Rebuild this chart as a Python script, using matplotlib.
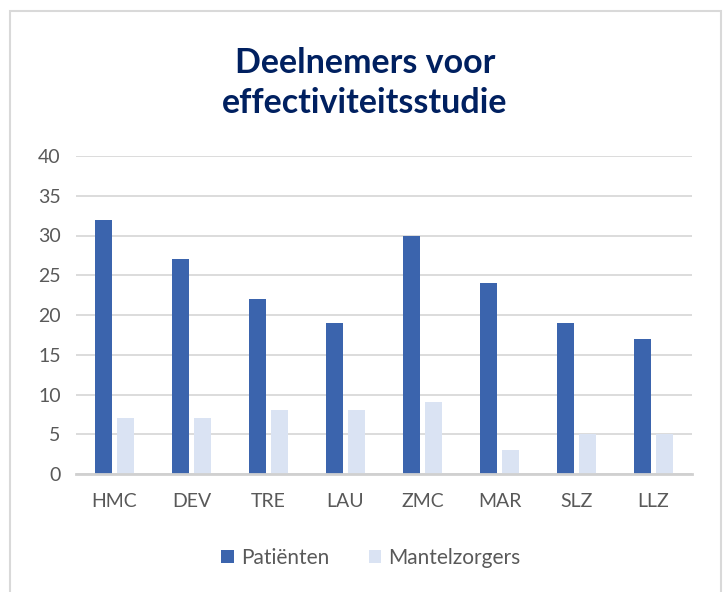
import numpy as np
import matplotlib.pyplot as plt
from matplotlib.patches import Rectangle

categories = ['HMC', 'DEV', 'TRE', 'LAU', 'ZMC', 'MAR', 'SLZ', 'LLZ']
patienten = [32, 27, 22, 19, 30, 24, 19, 17]
mantelzorgers = [7, 7, 8, 8, 9, 3, 5, 5]
y_ticks = [0, 5, 10, 15, 20, 25, 30, 35, 40]

plt.rcParams['font.family'] = ['Lato', 'DejaVu Sans']

fig = plt.figure(figsize=(7.26, 5.92), dpi=100)
ax = fig.add_axes([76 / 726, 1 - 474 / 592, 616 / 726, 318 / 592])

# chart border
fig.patches.append(Rectangle((10 / 726, -0.01), 711 / 726, 1 - 11 / 592 + 0.01,
                             transform=fig.transFigure, fill=False,
                             edgecolor='#D9D9D9', linewidth=1.5))

x = np.arange(len(categories))
w = 0.22
ax.bar(x - 0.14, patienten, w, color='#3B64AD', label='Patiënten', zorder=3)
ax.bar(x + 0.14, mantelzorgers, w, color='#DAE3F3', label='Mantelzorgers', zorder=3)

ax.set_xlim(-0.5, len(categories) - 0.5)
ax.set_ylim(0, 40)
ax.set_yticks(y_ticks)
ax.set_xticks(x)
ax.set_xticklabels(categories)
ax.tick_params(length=0, labelsize=14, labelcolor='#595959')
ax.tick_params(axis='x', pad=14)
ax.tick_params(axis='y', pad=11)
ax.grid(axis='y', color='#D9D9D9', linewidth=1.3, zorder=0)
for s in ['top', 'right', 'left']:
    ax.spines[s].set_visible(False)
ax.spines['bottom'].set_color('#D0D0D0')
ax.spines['bottom'].set_linewidth(2)
ax.spines['bottom'].set_zorder(4)

fig.text(0.503, 1 - 83 / 592, 'Deelnemers voor\neffectiviteitsstudie', ha='center', va='center',
         fontsize=24.5, fontweight='bold', color='#002060', linespacing=1.3)

fig.legend(loc='center', bbox_to_anchor=(0.511, 1 - 558 / 592), ncol=2, frameon=False,
           fontsize=15, labelcolor='#595959', handlelength=0.6, handleheight=0.6,
           handletextpad=0.35, columnspacing=1.9)

fig.savefig('out.png', dpi=100)
